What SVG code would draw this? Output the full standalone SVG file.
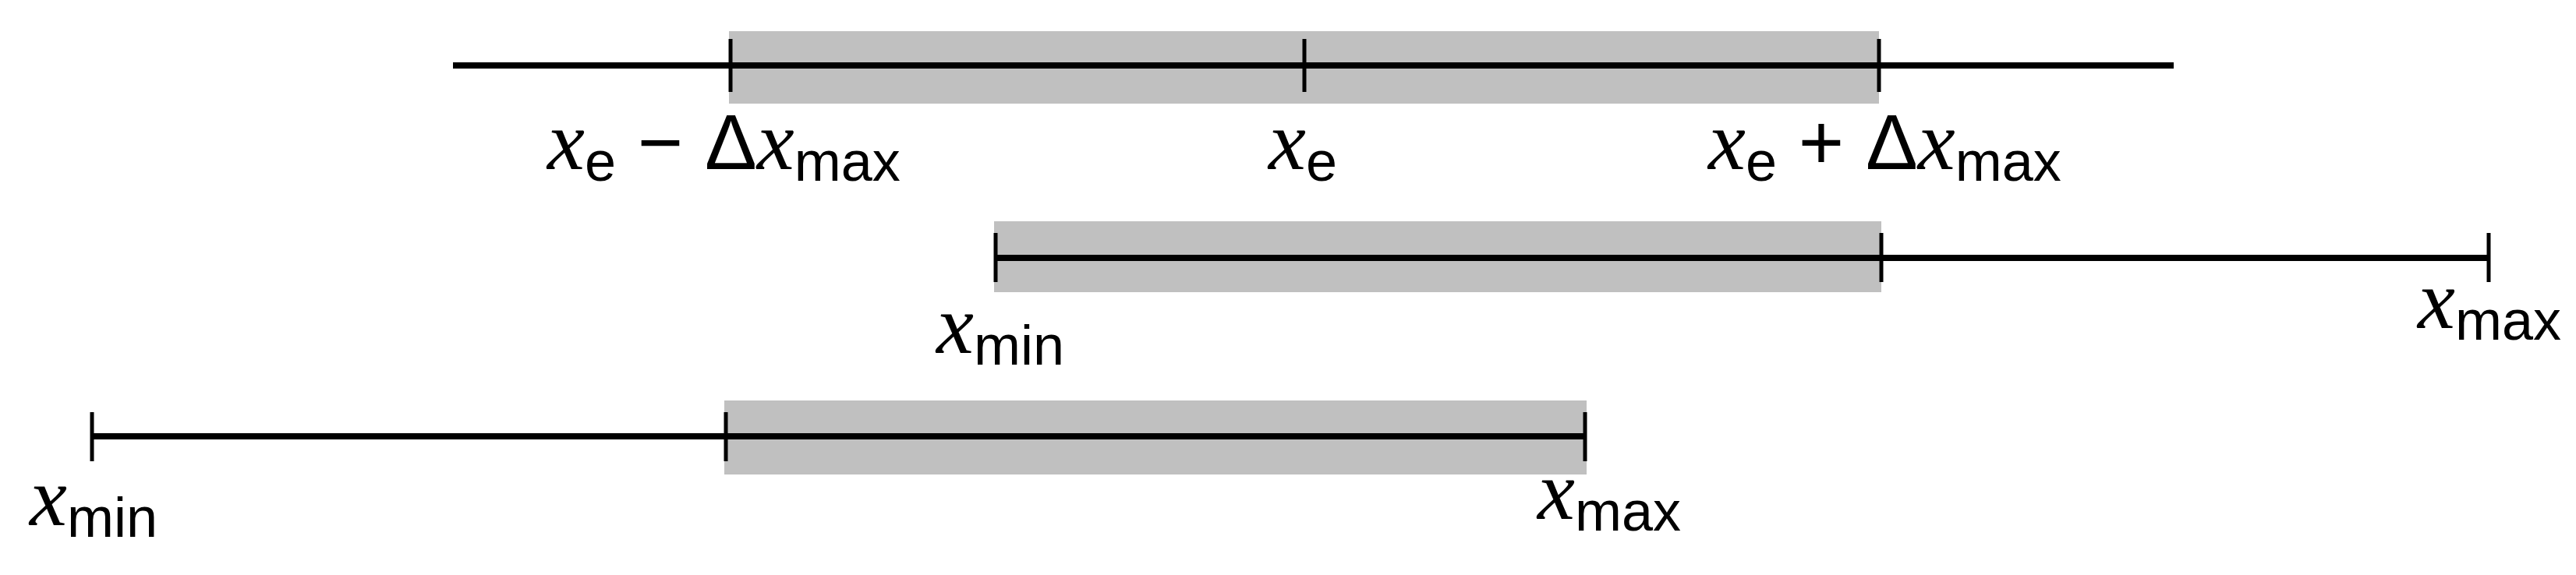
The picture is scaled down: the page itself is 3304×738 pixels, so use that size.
<svg xmlns="http://www.w3.org/2000/svg" width="3304" height="738" viewBox="0 0 3304 738">
<style>
.band{fill:#c0c0c0}
.ln{stroke:#000;stroke-width:8;fill:none}
.tk{stroke:#000;stroke-width:5}
.v{font-family:"Liberation Serif",serif;font-style:italic;font-size:108px}
.s{font-family:"Liberation Sans",sans-serif;font-size:72px}
.o{font-family:"Liberation Sans",sans-serif;font-size:100px}
</style>
<g id="row1">
<rect class="band" x="935" y="40" width="1475" height="93"/>
<line class="ln" x1="581" y1="84" x2="2788" y2="84"/>
<line class="tk" x1="937" y1="50" x2="937" y2="118"/>
<line class="tk" x1="1673" y1="50" x2="1673" y2="118"/>
<line class="tk" x1="2410" y1="50" x2="2410" y2="118"/>
<text x="702" y="217"><tspan class="v">x</tspan><tspan class="s" dy="15">e</tspan><tspan class="o" dy="-15"> − Δ</tspan><tspan class="v">x</tspan><tspan class="s" dy="15">max</tspan></text>
<text x="1627" y="217"><tspan class="v">x</tspan><tspan class="s" dy="15">e</tspan></text>
<text x="2191" y="217"><tspan class="v">x</tspan><tspan class="s" dy="15">e</tspan><tspan class="o" dy="-15"> + Δ</tspan><tspan class="v">x</tspan><tspan class="s" dy="15">max</tspan></text>
</g>
<g id="row2">
<rect class="band" x="1275" y="284" width="1138" height="91"/>
<line class="ln" x1="1275" y1="331" x2="3192" y2="331"/>
<line class="tk" x1="1277" y1="299" x2="1277" y2="362"/>
<line class="tk" x1="2413" y1="299" x2="2413" y2="362"/>
<line class="tk" x1="3192" y1="299" x2="3192" y2="362"/>
<text x="1201" y="453"><tspan class="v">x</tspan><tspan class="s" dy="15">min</tspan></text>
<text x="3101" y="421"><tspan class="v">x</tspan><tspan class="s" dy="15">max</tspan></text>
</g>
<g id="row3">
<rect class="band" x="929" y="514" width="1106" height="95"/>
<line class="ln" x1="118" y1="560" x2="2033" y2="560"/>
<line class="tk" x1="118" y1="529" x2="118" y2="592"/>
<line class="tk" x1="931" y1="529" x2="931" y2="592"/>
<line class="tk" x1="2033" y1="529" x2="2033" y2="592"/>
<text x="38" y="674"><tspan class="v">x</tspan><tspan class="s" dy="15">min</tspan></text>
<text x="1972" y="666"><tspan class="v">x</tspan><tspan class="s" dy="15">max</tspan></text>
</g>
<g id="connectors"/>
</svg>
